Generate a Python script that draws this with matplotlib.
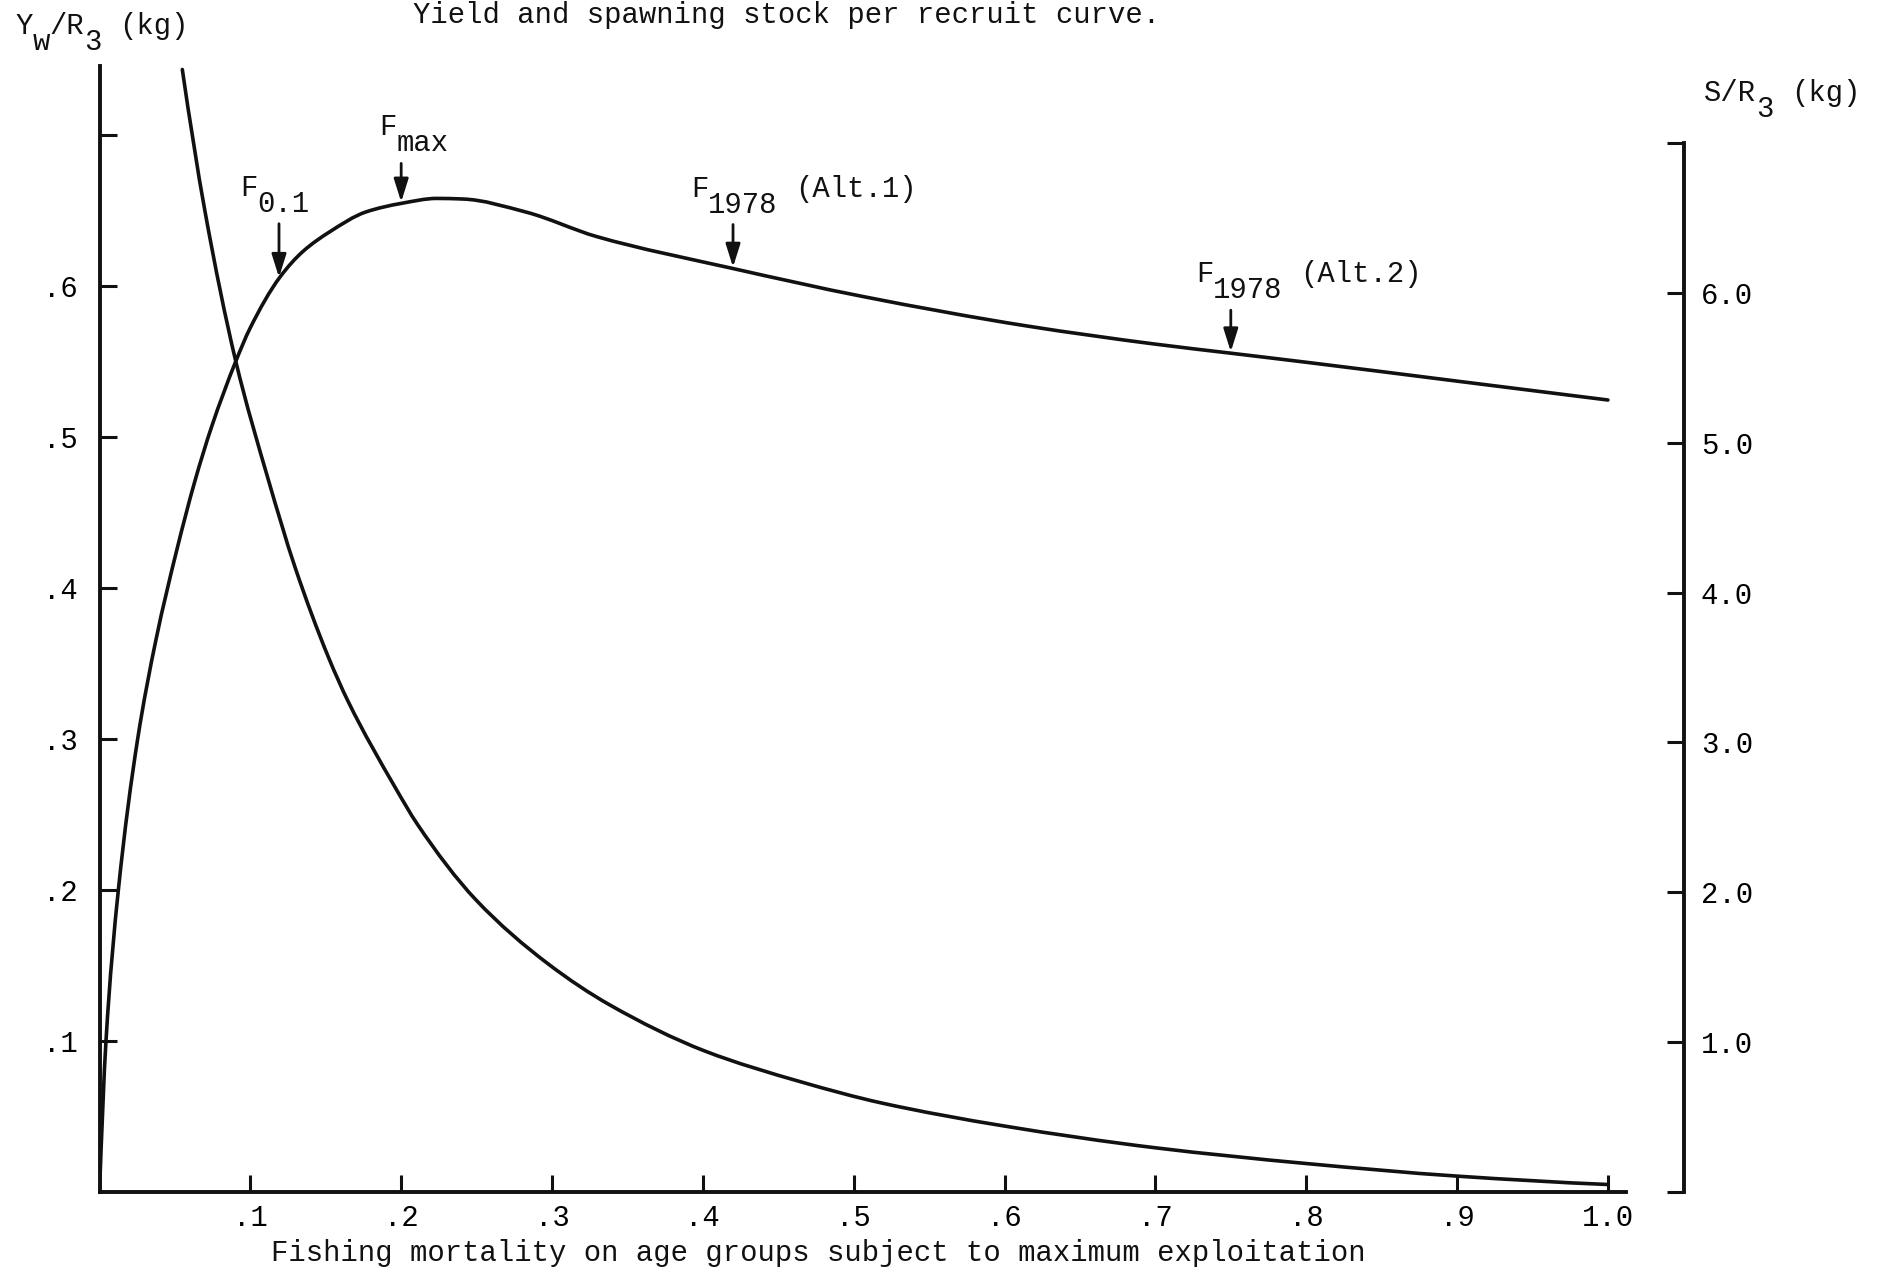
import matplotlib

matplotlib.use("Agg", force=True)

import matplotlib.pyplot as plt
import numpy as np
from matplotlib.patches import PathPatch
from matplotlib.path import Path

# Yield per recruit (kg) against fishing mortality F
f_yield = [0.0, 0.0043, 0.0125, 0.0253, 0.0375, 0.0512, 0.0633, 0.0744, 0.0903,
           0.0998, 0.1197, 0.135, 0.1528, 0.1765, 0.2, 0.2236, 0.241, 0.2826, 0.3297,
           0.4194, 0.5063, 0.615, 0.7, 0.75, 0.8, 0.9, 1.0]
yield_per_recruit = [0.0, 0.1, 0.2, 0.3, 0.366, 0.425, 0.471, 0.507, 0.55,
                     0.572, 0.606, 0.623, 0.636, 0.649, 0.6547, 0.658, 0.6576, 0.649, 0.6327,
                     0.6117, 0.593, 0.5735, 0.5615, 0.5555, 0.5495, 0.537, 0.5245]

# Spawning stock per recruit (kg)
f_stock = [0.0549, 0.07, 0.0903, 0.112, 0.1296, 0.1517, 0.165, 0.196, 0.211,
           0.2495, 0.2977, 0.338, 0.4015, 0.465, 0.518, 0.6, 0.7, 0.8, 0.9, 1.0]
stock_per_recruit = [7.49, 6.54, 5.545, 4.75, 4.17, 3.57, 3.27, 2.70, 2.45,
                     1.95, 1.52, 1.25, 0.94, 0.735, 0.595, 0.44, 0.295, 0.19, 0.106, 0.05]

x_ticks = [0.1, 0.2, 0.3, 0.4, 0.5, 0.6, 0.7, 0.8, 0.9, 1.0]
x_tick_labels = [".1", ".2", ".3", ".4", ".5", ".6", ".7", ".8", ".9", "1.0"]
y_ticks = [0.1, 0.2, 0.3, 0.4, 0.5, 0.6, 0.7]
y_tick_labels = [".1", ".2", ".3", ".4", ".5", ".6", ""]
s_ticks = [0, 1, 2, 3, 4, 5, 6, 7]
s_tick_labels = ["", "1.0", "2.0", "3.0", "4.0", "5.0", "6.0", ""]

# reference fishing mortalities marked on the yield curve
ref_f = [0.119, 0.2, 0.42, 0.75]
ref_text = [("F", "0.1", ""), ("F", "max", ""), ("F", "1978", "(Alt.1)"), ("F", "1978", "(Alt.2)")]

W, H, DPI = 1879, 1271, 100
FS = 20.8
CHAR = 0.6 * FS * DPI / 72   # monospace advance in pixels
DROP = 16                    # typewriter half-line for subscripts
INK = "#111111"

plt.rcParams["font.family"] = ["Liberation Mono", "DejaVu Sans Mono"]
plt.rcParams["text.color"] = INK


def _slopes(x, y):
    # shape-preserving (Fritsch-Carlson) tangents, so the drawn curve never overshoots
    h = np.diff(x)
    d = np.diff(y) / h
    m = np.zeros_like(y)
    for k in range(1, len(x) - 1):
        if d[k - 1] * d[k] > 0:
            w1, w2 = 2 * h[k] + h[k - 1], h[k] + 2 * h[k - 1]
            m[k] = (w1 + w2) / (w1 / d[k - 1] + w2 / d[k])
    m[0] = ((2 * h[0] + h[1]) * d[0] - h[0] * d[1]) / (h[0] + h[1])
    m[-1] = ((2 * h[-1] + h[-2]) * d[-1] - h[-1] * d[-2]) / (h[-1] + h[-2])
    return m


def smooth_curve(ax, x, y, **kw):
    """Draw a smooth pen line through the points as cubic Bezier segments."""
    x = np.asarray(x, float)
    y = np.asarray(y, float)
    m = _slopes(x, y)
    verts = [(x[0], y[0])]
    codes = [Path.MOVETO]
    for k in range(len(x) - 1):
        h = (x[k + 1] - x[k]) / 3
        verts += [(x[k] + h, y[k] + m[k] * h),
                  (x[k + 1] - h, y[k + 1] - m[k + 1] * h),
                  (x[k + 1], y[k + 1])]
        codes += [Path.CURVE4] * 3
    ax.add_patch(PathPatch(Path(verts, codes), fill=False, capstyle="round",
                           joinstyle="round", **kw))


def typed(ax, xy, coords, dx, dy, main, sub="", rest=""):
    """Write text the way a typewriter does: subscripts keep full size, dropped half a line."""
    kw = dict(xycoords=coords, textcoords="offset pixels", fontsize=FS,
              ha="left", va="baseline", annotation_clip=False)
    ax.annotate(main, xy, xytext=(dx, dy), **kw)
    if sub:
        ax.annotate(sub, xy, xytext=(dx + len(main) * CHAR, dy - DROP), **kw)
    if rest:
        ax.annotate(rest, xy, xytext=(dx + (len(main) + len(sub) + 1) * CHAR, dy), **kw)


fig = plt.figure(figsize=(W / DPI, H / DPI), dpi=DPI)
left, right, bottom, top = 99.5, 1626, 1192, 66
ax = fig.add_axes([left / W, (H - bottom) / H, (right - left) / W, (bottom - top) / H])

smooth_curve(ax, f_yield, yield_per_recruit, edgecolor=INK, lw=2.6)
ax.set_xlim(0, 1.012)
ax.set_ylim(0, (1192 - 66) / 1510)

for side in ("top", "right"):
    ax.spines[side].set_visible(False)
for side in ("left", "bottom"):
    ax.spines[side].set_linewidth(2.8)
    ax.spines[side].set_color(INK)

ax.set_xticks(x_ticks)
ax.set_xticklabels(x_tick_labels)
ax.set_yticks(y_ticks)
ax.set_yticklabels(y_tick_labels)
ax.xaxis.set_ticks_position("bottom")
ax.yaxis.set_ticks_position("left")
ax.tick_params(axis="x", direction="in", length=12, width=2.2, pad=9, labelsize=FS, color=INK)
ax.tick_params(axis="y", direction="in", length=12, width=2.2, pad=16, labelsize=FS, color=INK)

# spawning stock on its own scale, spine set off to the right
ax2 = ax.twinx()
smooth_curve(ax2, f_stock, stock_per_recruit, edgecolor=INK, lw=2.6)
ax2.set_ylim((1196 - 1192) / 150.4, (1196 - 66) / 150.4)
for side in ("top", "bottom", "left"):
    ax2.spines[side].set_visible(False)
ax2.spines["right"].set_position(("axes", (1684 - left) / (right - left)))
ax2.spines["right"].set_bounds(0, 7)
ax2.spines["right"].set_linewidth(2.8)
ax2.spines["right"].set_color(INK)
ax2.set_yticks(s_ticks)
ax2.set_yticklabels(s_tick_labels)
ax2.tick_params(axis="y", direction="in", length=12, width=2.2, pad=12, labelsize=FS, color=INK)

# arrows down onto the yield curve
ref_y = np.interp(ref_f, f_yield, yield_per_recruit)
arrow_len = [55, 40, 44, 43]
text_dx = [-39, -22, -42, -35]
for f, y, (main, sub, rest), alen, tdx in zip(ref_f, ref_y, ref_text, arrow_len, text_dx):
    ax.annotate("", xy=(f, y), xytext=(0, alen), textcoords="offset pixels",
                arrowprops=dict(arrowstyle="-|>,head_length=0.7,head_width=0.22",
                                mutation_scale=20, lw=2.0, color=INK,
                                shrinkA=0, shrinkB=1))
    typed(ax, (f, y), "data", tdx, alen + 28, main, sub, rest)

# titles and axis captions
typed(ax, (413, H - 23), "figure pixels", 0, 0, "Yield and spawning stock per recruit curve.")
typed(ax, (15, H - 34), "figure pixels", 0, 0, "Y", "w", "")
typed(ax, (15 + 2 * CHAR, H - 34), "figure pixels", 0, 0, "/R", "3", "(kg)")
typed(ax, (1704, H - 101), "figure pixels", 0, 0, "S/R", "3", "(kg)")
typed(ax, (271, H - 1261), "figure pixels", 0, 0,
      "Fishing mortality on age groups subject to maximum exploitation")

fig.savefig("out.png", dpi=DPI)
